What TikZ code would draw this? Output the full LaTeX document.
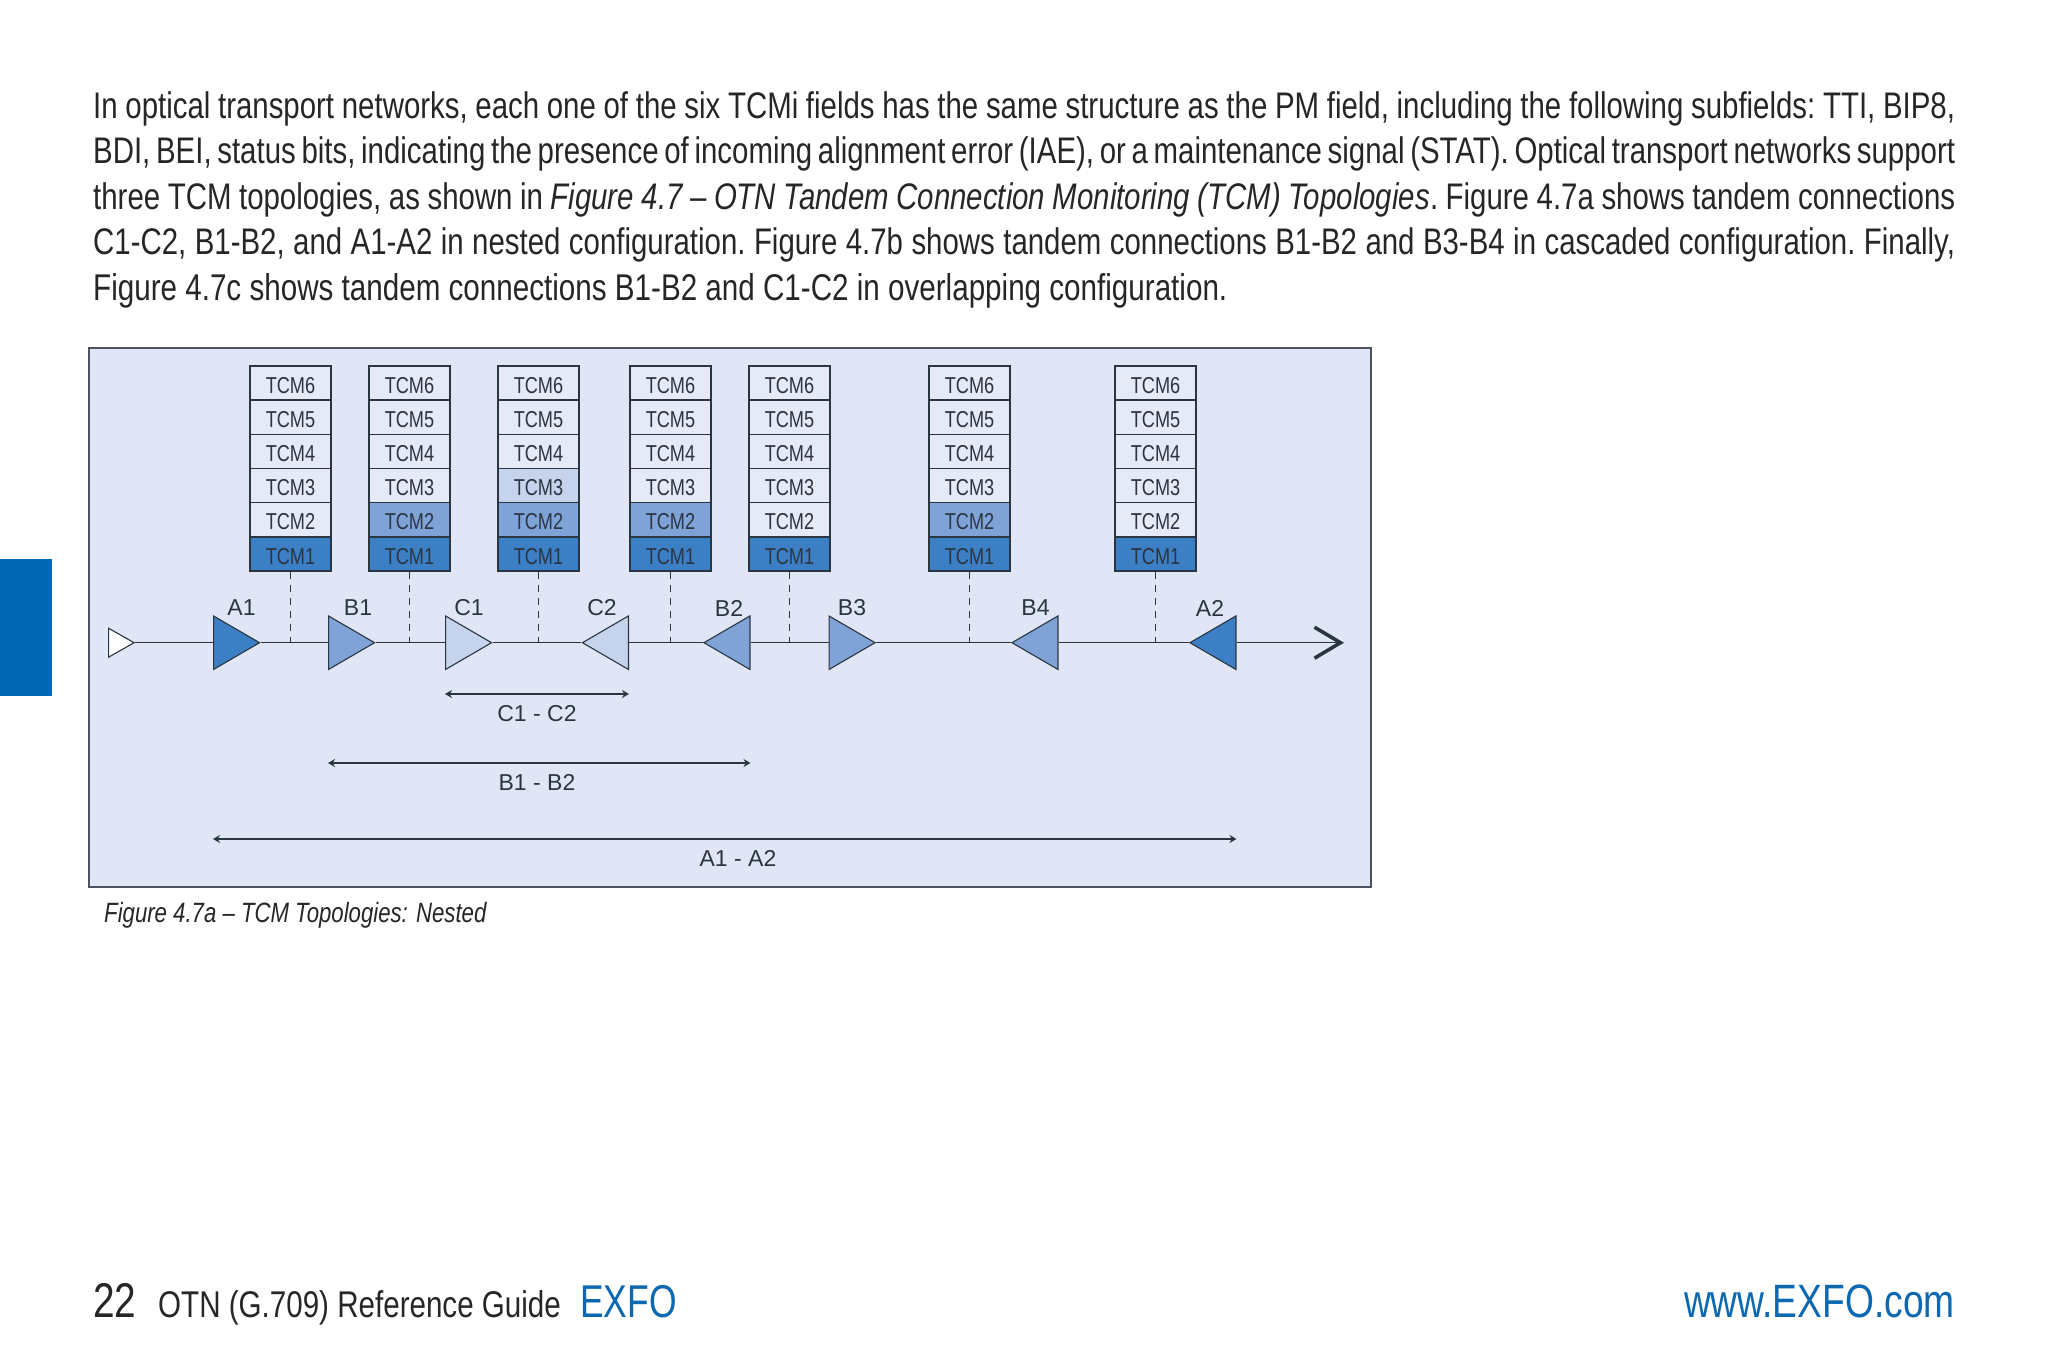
\documentclass[tikz,border=0pt]{standalone}
\usepackage{fontspec}
\usetikzlibrary{shapes.geometric,arrows.meta}
\setmainfont{Liberation Sans}
\newfontfamily\bodyf[FakeStretch=0.795]{Liberation Sans}
\newfontfamily\exfof[FakeStretch=0.77]{Liberation Sans}
\newfontfamily\cellf[FakeStretch=0.79]{Liberation Sans}
\newfontfamily\labf[FakeStretch=1.0]{Liberation Sans}
\definecolor{panelc}{HTML}{E0E6F5}
\definecolor{cellc}{HTML}{E6EAF6}
\definecolor{tone}{HTML}{3C7FC5}
\definecolor{ttwo}{HTML}{7FA3D6}
\definecolor{tthree}{HTML}{C6D3EC}
\definecolor{inkc}{HTML}{2A3542}
\definecolor{exfoc}{HTML}{0C68B0}
\definecolor{tabc}{HTML}{0068B5}
\tikzset{
  cell/.style={draw=inkc,line width=1.3pt,minimum width=81pt,minimum height=34.2pt,inner sep=0pt,text=inkc,text height=20pt,text depth=0pt,font=\cellf\fontsize{23}{25}\selectfont},
  tri/.style={isosceles triangle,isosceles triangle stretches,anchor=lower side,draw=inkc,line width=1.1pt,inner sep=0pt,minimum height=46pt,minimum width=53.5pt},
  triR/.style={tri,shape border rotate=0},
  triL/.style={tri,shape border rotate=180},
  wire/.style={draw=inkc,line width=1.2pt},
  tap/.style={draw=inkc,line width=1.1pt,dash pattern=on 7pt off 6pt},
  span/.style={draw=inkc,line width=1.6pt,{Stealth[length=7pt,width=8pt]}-{Stealth[length=7pt,width=8pt]}},
  lab/.style={text=inkc,inner sep=0pt,font=\labf\fontsize{23}{25}\selectfont},
  para/.style={anchor=base west,inner sep=0pt,text=black!85,font=\bodyf\frenchspacing\fontsize{37}{40}\selectfont},
}
\newcommand{\tcmstack}[5]{%
  \foreach \r/\c [count=\i from 0] in {6/cellc,5/cellc,4/cellc,3/#3,2/#4,1/#5}{
    \node[cell,fill=\c] (s#1r\r) at (#2,383+34.2*\i) {TCM\r};
  }
}
\begin{document}
\begin{tikzpicture}[x=1pt,y=-1pt]
\useasboundingbox (0,0) rectangle (2048,1365);
\fill[white] (0,0) rectangle (2048,1365);
\node[draw=none,fill=tabc,minimum width=52pt,minimum height=137pt,inner sep=0pt,anchor=north west] (tab) at (0,559) {};
% paragraph
\node[para] (l1) at (93,118) {\makebox[1862pt][s]{In optical transport networks, each one of the six TCMi fields has the same structure as the PM field, including the following subfields: TTI, BIP8,}};
\node[para] (l2) at (93,163.5) {\makebox[1862pt][s]{BDI, BEI, status bits, indicating the presence of incoming alignment error (IAE), or a maintenance signal (STAT). Optical transport networks support}};
\node[para] (l3) at (93,209) {\makebox[1862pt][s]{three TCM topologies, as shown in \textit{Figure 4.7 – OTN Tandem Connection Monitoring (TCM) Topologies}. Figure 4.7a shows tandem connections}};
\node[para] (l4) at (93,254.5) {\makebox[1862pt][s]{C1-C2, B1-B2, and A1-A2 in nested configuration. Figure 4.7b shows tandem connections B1-B2 and B3-B4 in cascaded configuration. Finally,}};
\node[para] (l5) at (93,300) {\fontsize{37.25}{40}\selectfont Figure 4.7c shows tandem connections B1-B2 and C1-C2 in overlapping configuration.};
% panel
\node[draw=inkc!85,line width=1.5pt,fill=panelc,minimum width=1282pt,minimum height=539pt,inner sep=0pt,anchor=north west] (panel) at (88,347) {};
% stacks
\tcmstack{a}{290.5}{cellc}{cellc}{tone}
\tcmstack{b}{409.5}{cellc}{ttwo}{tone}
\tcmstack{c}{538.5}{tthree}{ttwo}{tone}
\tcmstack{d}{670.5}{cellc}{ttwo}{tone}
\tcmstack{e}{789.5}{cellc}{cellc}{tone}
\tcmstack{f}{969.5}{cellc}{ttwo}{tone}
\tcmstack{g}{1155.6}{cellc}{cellc}{tone}
% triangles
\node[triR,fill=white,minimum height=25.5pt,minimum width=29pt] (st) at (108,642.7) {};
\node[triR,fill=tone] (A1) at (213,642.7) {};
\node[triR,fill=ttwo] (B1) at (328,642.7) {};
\node[triR,fill=tthree] (C1) at (445,642.7) {};
\node[triL,fill=tthree] (C2) at (629,642.7) {};
\node[triL,fill=ttwo] (B2) at (750.5,642.7) {};
\node[triR,fill=ttwo] (B3) at (828.5,642.7) {};
\node[triL,fill=ttwo] (B4) at (1058.5,642.7) {};
\node[triL,fill=tone] (A2) at (1236.5,642.7) {};
\coordinate (endp) at (1344,642.7);
% line
\draw[wire] (st.apex) -- (A1.lower side);
\draw[wire] (A1.apex) -- (B1.lower side);
\draw[wire] (B1.apex) -- (C1.lower side);
\draw[wire] (C1.apex) -- (C2.apex);
\draw[wire] (C2.lower side) -- (B2.apex);
\draw[wire] (B2.lower side) -- (B3.lower side);
\draw[wire] (B3.apex) -- (B4.apex);
\draw[wire] (B4.lower side) -- (A2.apex);
\draw[wire,-{Straight Barb[length=26pt,width=31pt,line width=3.6pt]}] (A2.lower side) -- (endp);
% taps
\foreach \s in {a,b,c,d,e,f,g}{
  \draw[tap] (s\s r1.south) -- (s\s r1.south |- st.apex);
}
% labels
\node[lab] (lA1) at (241.5,608) {A1};
\node[lab] (lB1) at (358,608) {B1};
\node[lab] (lC1) at (469,608) {C1};
\node[lab] (lC2) at (602,608) {C2};
\node[lab] (lB2) at (729,608) {B2};
\node[lab] (lB3) at (852,608) {B3};
\node[lab] (lB4) at (1035.5,608) {B4};
\node[lab] (lA2) at (1210,608) {A2};
% spans
\coordinate (c1s) at (C1.left corner |- 0,694);
\coordinate (c2s) at (C2.left corner |- 0,694);
\coordinate (b1s) at (B1.left corner |- 0,763);
\coordinate (b2s) at (B2.left corner |- 0,763);
\coordinate (a1s) at (A1.left corner |- 0,839);
\coordinate (a2s) at (A2.left corner |- 0,839);
\draw[span] (c1s) -- (c2s);
\draw[span] (b1s) -- (b2s);
\draw[span] (a1s) -- (a2s);
\node[lab] (lc) at (537,714) {C1 - C2};
\node[lab] (lb) at (537,782.5) {B1 - B2};
\node[lab] (la) at (738,858) {A1 - A2};
% caption
\node[anchor=base west,inner sep=0pt,text=black!85,font=\bodyf\itshape\fontsize{27.9}{30}\selectfont] (cap) at (104,922) {Figure 4.7a – TCM Topologies: Nested};
% footer
\node[anchor=base west,inner sep=0pt,text=black!85,font=\bodyf\fontsize{48.8}{50}\selectfont] (pg) at (93,1317) {22};
\node[anchor=base west,inner sep=0pt,text=black!85,font=\bodyf\fontsize{37.2}{40}\selectfont] (ft) at (158,1317) {OTN (G.709) Reference Guide};
\node[anchor=base west,inner sep=0pt,text=exfoc,font=\exfof\fontsize{46}{50}\selectfont] (ex) at (580,1317) {EXFO};
\node[anchor=base east,inner sep=0pt,text=exfoc,font=\bodyf\fontsize{46.8}{50}\selectfont] (www) at (1955,1317) {www.EXFO.com};
\end{tikzpicture}
\end{document}
